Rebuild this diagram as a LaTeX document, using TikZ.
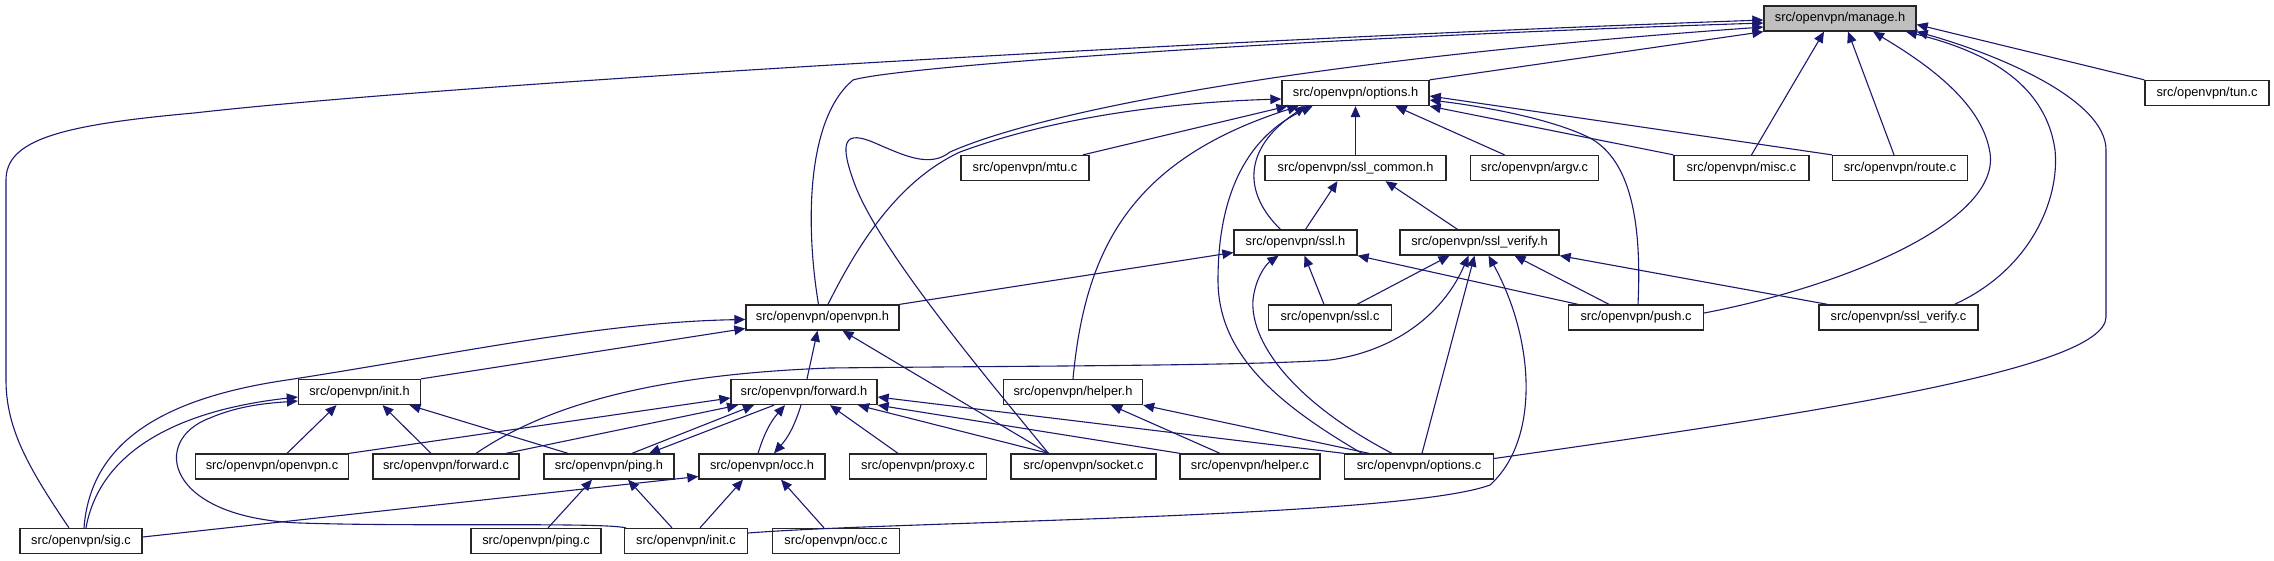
\documentclass[tikz,border=0pt]{standalone}
\usepackage{fontspec}
\setmainfont{Liberation Sans}
\usetikzlibrary{arrows.meta}
\definecolor{edgeblue}{HTML}{191970}
\definecolor{curfill}{HTML}{BFBFBF}
\begin{document}
\begin{tikzpicture}[x=1pt,y=-1pt,
  file/.style={draw=black!85, line width=1.3pt, fill=white, minimum height=25pt, inner sep=0pt, font=\fontsize{12.8}{14}\selectfont},
  dep/.style={draw=edgeblue, line width=1.1pt, -{Triangle[length=11pt,width=9.5pt]}}
]
\useasboundingbox (0,0) rectangle (2274,560);
% nodes
\node[file, fill=curfill, minimum width=152pt] (manage) at (1840,18.5) {src/openvpn/manage.h};
\node[file, minimum width=124pt] (tun) at (2207,93) {src/openvpn/tun.c};
\node[file, minimum width=147pt] (options) at (1355.5,93) {src/openvpn/options.h};
\node[file, minimum width=135pt] (misc) at (1741.5,168) {src/openvpn/misc.c};
\node[file, minimum width=135pt] (route) at (1900,168) {src/openvpn/route.c};
\node[file, minimum width=128pt] (mtu) at (1025,168) {src/openvpn/mtu.c};
\node[file, minimum width=181pt] (sslcommon) at (1355.5,168) {src/openvpn/ssl\_common.h};
\node[file, minimum width=128pt] (argv) at (1534.5,168) {src/openvpn/argv.c};
\node[file, minimum width=123pt] (sslh) at (1295.5,242.5) {src/openvpn/ssl.h};
\node[file, minimum width=159pt] (sslverifyh) at (1479.5,242.5) {src/openvpn/ssl\_verify.h};
\node[file, minimum width=153pt] (openvpnh) at (822.5,317.5) {src/openvpn/openvpn.h};
\node[file, minimum width=123pt] (sslc) at (1330,317.5) {src/openvpn/ssl.c};
\node[file, minimum width=135pt] (push) at (1636,317.5) {src/openvpn/push.c};
\node[file, minimum width=159pt] (sslverifyc) at (1898.5,317.5) {src/openvpn/ssl\_verify.c};
\node[file, minimum width=122pt] (inith) at (359.5,392) {src/openvpn/init.h};
\node[file, minimum width=146pt] (forwardh) at (804,392) {src/openvpn/forward.h};
\node[file, minimum width=139pt] (helperh) at (1073,392) {src/openvpn/helper.h};
\node[file, minimum width=153pt] (openvpnc) at (272,466.5) {src/openvpn/openvpn.c};
\node[file, minimum width=146pt] (forwardc) at (446,466.5) {src/openvpn/forward.c};
\node[file, minimum width=130pt] (pingh) at (609,466.5) {src/openvpn/ping.h};
\node[file, minimum width=126pt] (occh) at (762,466.5) {src/openvpn/occ.h};
\node[file, minimum width=137pt] (proxy) at (918,466.5) {src/openvpn/proxy.c};
\node[file, minimum width=145pt] (socket) at (1083.5,466.5) {src/openvpn/socket.c};
\node[file, minimum width=140pt] (helperc) at (1250,466.5) {src/openvpn/helper.c};
\node[file, minimum width=149pt] (optionsc) at (1419,466.5) {src/openvpn/options.c};
\node[file, minimum width=122pt] (sig) at (81,541) {src/openvpn/sig.c};
\node[file, minimum width=130pt] (pingc) at (536,541) {src/openvpn/ping.c};
\node[file, minimum width=123pt] (initc) at (686,541) {src/openvpn/init.c};
\node[file, minimum width=127pt] (occc) at (836,541) {src/openvpn/occ.c};

% edges into manage.h
\draw[dep] (options.north east) -- (manage.south west);
\draw[dep] ([xshift=-12pt]sig.north) .. controls (30,470) and (6,430) .. (6,380) -- (6,180) .. controls (6,140) and (60,125) .. (194,113) .. controls (450,84) and (1200,40) .. ([yshift=-1.5pt]manage.west);
\draw[dep] ([xshift=-4pt]openvpnh.north) .. controls (806,230) and (805,120) .. (853,80) .. controls (900,66) and (1300,38) .. ([yshift=-4.5pt]manage.west);
\draw[dep] ([xshift=-35pt]socket.north) .. controls (980,370) and (880,250) .. (855,185) .. controls (838,140) and (845,130) .. (875,143) .. controls (905,156) and (930,168) .. (950,152) .. controls (1040,112) and (1300,60) .. ([yshift=-8.5pt]manage.west);
\draw[dep] ([xshift=10pt]misc.north) -- ([xshift=-16pt]manage.south);
\draw[dep] ([xshift=-6pt]route.north) -- ([xshift=8pt]manage.south);
\draw[dep] ([yshift=4.5pt]push.east) .. controls (1850,285) and (2000,220) .. (1990,153) .. controls (1982,100) and (1920,60) .. ([xshift=33pt]manage.south);
\draw[dep] ([xshift=56pt]sslverifyc.north) .. controls (2030,270) and (2060,200) .. (2055,150) .. controls (2045,80) and (1980,50) .. ([xshift=66pt]manage.south);
\draw[dep] ([yshift=8pt]optionsc.east) .. controls (1800,415) and (2106,370) .. (2106,317) -- (2106,150) .. controls (2106,100) and (2000,55) .. (manage.south east);
\draw[dep] (tun.north west) -- ([yshift=-6pt]manage.east);

% edges into options.h
\draw[dep] ([xshift=5.5pt]openvpnh.north) .. controls (860,240) and (900,180) .. (960,152) .. controls (1060,115) and (1180,102) .. ([yshift=-6pt]options.west);
\draw[dep] ([xshift=58pt]mtu.north) -- ([xshift=-68pt]options.south);
\draw[dep] (helperh.north) .. controls (1085,250) and (1130,160) .. ([xshift=-57pt]options.south);
\draw[dep] ([xshift=-15pt]sslh.north) .. controls (1245,195) and (1240,150) .. ([xshift=-50pt]options.south);
\draw[dep] ([xshift=-57pt]optionsc.north) .. controls (1270,400) and (1218,350) .. (1218,280) .. controls (1218,190) and (1250,135) .. ([xshift=-43pt]options.south);
\draw[dep] (sslcommon.north) -- (options.south);
\draw[dep] ([xshift=-30pt]argv.north) -- ([xshift=40pt]options.south);
\draw[dep] ([xshift=2pt]push.north) .. controls (1642,220) and (1630,160) .. (1590,138) .. controls (1550,118) and (1480,106) .. ([yshift=-7pt]options.east);
\draw[dep] (misc.north west) -- (options.south east);
\draw[dep] (route.north west) -- ([yshift=-3pt]options.east);

% ssl_common.h
\draw[dep] ([xshift=10pt]sslh.north) -- ([xshift=-18pt]sslcommon.south);
\draw[dep] ([xshift=-22pt]sslverifyh.north) -- ([xshift=30pt]sslcommon.south);

% ssl.h
\draw[dep] (openvpnh.north east) -- ([yshift=-10pt]sslh.west);
\draw[dep] ([xshift=-6pt]sslc.north) -- ([xshift=9pt]sslh.south);
\draw[dep] ([xshift=-58pt]push.north) -- (sslh.south east);
\draw[dep] ([xshift=-27pt]optionsc.north) .. controls (1290,400) and (1250,340) .. (1253,300) .. controls (1255,280) and (1265,265) .. ([xshift=-17pt]sslh.south);

% ssl_verify.h
\draw[dep] ([xshift=27pt]sslc.north) -- ([xshift=-30pt]sslverifyh.south);
\draw[dep] ([xshift=30pt]forwardc.north) .. controls (540,410) and (640,375) .. (830,368) .. controls (1000,366) and (1250,366) .. (1330,360) .. controls (1400,350) and (1445,310) .. ([xshift=-11pt]sslverifyh.south);
\draw[dep] ([xshift=3pt]optionsc.north) -- ([xshift=-5pt]sslverifyh.south);
\draw[dep] ([yshift=8pt]initc.east) .. controls (900,521) and (1400,518) .. (1490,485) .. controls (1540,440) and (1535,340) .. ([xshift=9pt]sslverifyh.south);
\draw[dep] ([xshift=-27pt]push.north) -- ([xshift=35pt]sslverifyh.south);
\draw[dep] ([xshift=-71pt]sslverifyc.north) -- (sslverifyh.south east);

% openvpn.h
\draw[dep] (inith.north east) -- ([yshift=-11pt]openvpnh.west);
\draw[dep] ([xshift=3pt]sig.north) .. controls (90,450) and (150,400) .. (287,380) .. controls (450,355) and (600,322) .. ([yshift=-2pt]openvpnh.west);
\draw[dep] ([xshift=3pt]forwardh.north) -- ([xshift=-5pt]openvpnh.south);
\draw[dep] ([xshift=-35pt]socket.north) -- ([xshift=20pt]openvpnh.south);

% init.h
\draw[dep] ([xshift=5pt]sig.north) .. controls (100,450) and (180,410) .. ([yshift=-5pt]inith.west);
\draw[dep] ([xshift=-60pt]initc.north) .. controls (600,522) and (420,527) .. (300,523) .. controls (165,518) and (150,440) .. (210,418) .. controls (240,405) and (270,403) .. ([yshift=-9pt]inith.west);
\draw[dep] ([xshift=15pt]openvpnc.north) -- ([xshift=-23pt]inith.south);
\draw[dep] ([xshift=-15pt]forwardc.north) -- ([xshift=23pt]inith.south);
\draw[dep] ([xshift=-41pt]pingh.north) -- ([xshift=50pt]inith.south);

% forward.h
\draw[dep] (openvpnc.north east) -- ([yshift=-6pt]forwardh.west);
\draw[dep] ([xshift=60pt]forwardc.north) -- ([xshift=-66pt]forwardh.south);
\draw[dep] ([xshift=23pt]pingh.north) -- ([xshift=-50pt]forwardh.south);
\draw[dep] ([xshift=-30pt]forwardh.south) -- ([xshift=40pt]pingh.north);
\draw[dep] ([xshift=-4pt]occh.north) to[bend left=12] ([xshift=-19pt]forwardh.south);
\draw[dep] ([xshift=-3pt]forwardh.south) to[bend left=12] ([xshift=12pt]occh.north);
\draw[dep] ([xshift=-20pt]proxy.north) -- ([xshift=26pt]forwardh.south);
\draw[dep] ([xshift=-35pt]socket.north) -- ([xshift=54pt]forwardh.south);
\draw[dep] ([xshift=-70pt]helperc.north) -- (forwardh.south east);
\draw[dep] (optionsc.north west) -- ([yshift=-5pt]forwardh.east);

% helper.h
\draw[dep] ([xshift=-30pt]helperc.north) -- ([xshift=38pt]helperh.south);
\draw[dep] ([xshift=-50pt]optionsc.north) -- (helperh.south east);

% occ.h and ping.h
\draw[dep] ([yshift=4pt]sig.east) -- ([yshift=-10pt]occh.west);
\draw[dep] ([xshift=14pt]initc.north) -- ([xshift=-19pt]occh.south);
\draw[dep] ([xshift=-12pt]occc.north) -- ([xshift=19pt]occh.south);
\draw[dep] ([xshift=12pt]pingc.north) -- ([xshift=-17pt]pingh.south);
\draw[dep] ([xshift=-14pt]initc.north) -- ([xshift=19pt]pingh.south);
\end{tikzpicture}
\end{document}
